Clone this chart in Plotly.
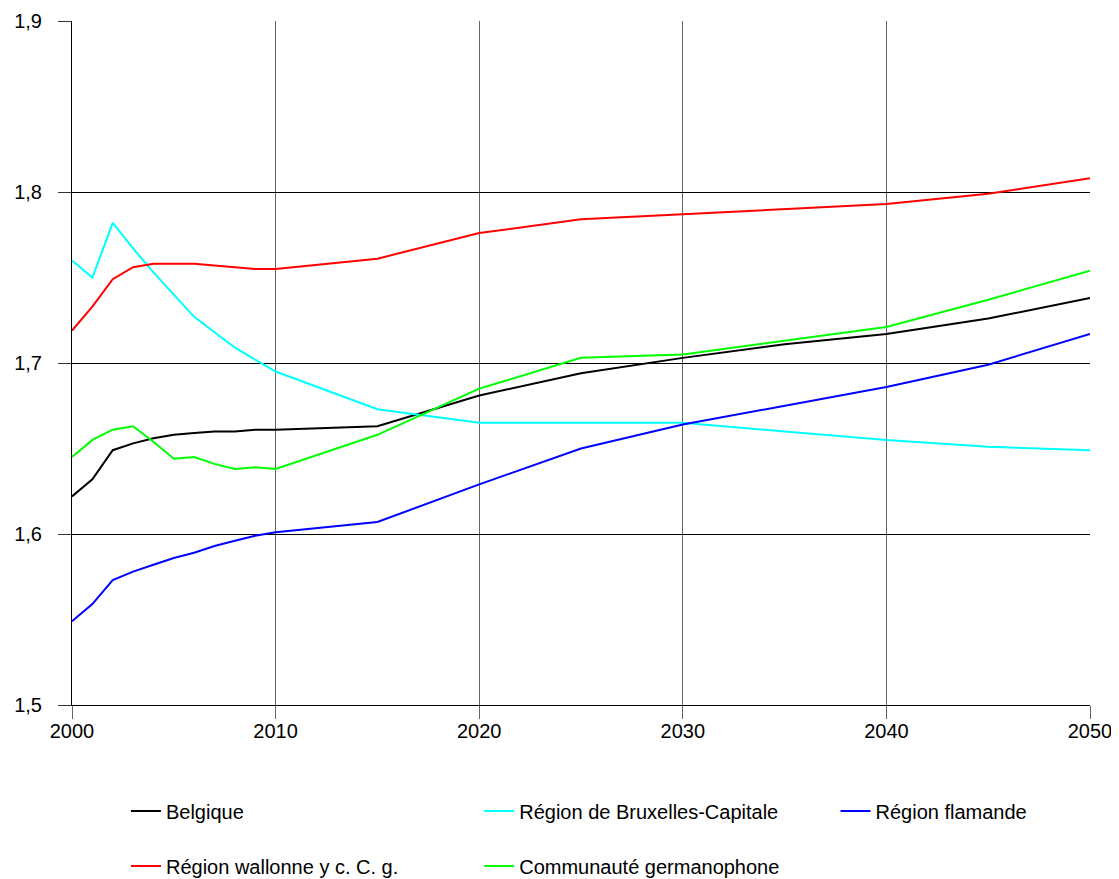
import plotly.graph_objects as go

years = [2000, 2001, 2002, 2003, 2004, 2005, 2006, 2007, 2008, 2009, 2010,
         2015, 2020, 2025, 2030, 2035, 2040, 2045, 2050]

belgique = [1.622, 1.632, 1.649, 1.653, 1.656, 1.658, 1.659, 1.660, 1.660, 1.661, 1.661,
            1.663, 1.681, 1.694, 1.703, 1.711, 1.717, 1.726, 1.738]
bruxelles = [1.760, 1.750, 1.782, 1.767, 1.753, 1.740, 1.727, 1.718, 1.709, 1.702, 1.695,
             1.673, 1.665, 1.665, 1.665, 1.660, 1.655, 1.651, 1.649]
flamande = [1.549, 1.559, 1.573, 1.578, 1.582, 1.586, 1.589, 1.593, 1.596, 1.599, 1.601,
            1.607, 1.629, 1.650, 1.664, 1.675, 1.686, 1.699, 1.717]
wallonne = [1.719, 1.733, 1.749, 1.756, 1.758, 1.758, 1.758, 1.757, 1.756, 1.755, 1.755,
            1.761, 1.776, 1.784, 1.787, 1.790, 1.793, 1.799, 1.808]
germanophone = [1.645, 1.655, 1.661, 1.663, 1.654, 1.644, 1.645, 1.641, 1.638, 1.639, 1.638,
                1.658, 1.685, 1.703, 1.705, 1.713, 1.721, 1.737, 1.754]

names = ["Belgique", "Région de Bruxelles-Capitale", "Région flamande",
         "Région wallonne y c. C. g.", "Communauté germanophone"]
values = [belgique, bruxelles, flamande, wallonne, germanophone]
colors = ["#000000", "#00FFFF", "#0000FF", "#FF0000", "#00FF00"]

x_ticks = [2000, 2010, 2020, 2030, 2040, 2050]
y_ticks = [1.5, 1.6, 1.7, 1.8, 1.9]

# legend placement (paper coords): x of legend box left, y of row center
legend_pos = [(0.053, -0.155), (0.400, -0.155), (0.750, -0.155),
              (0.053, -0.2354), (0.400, -0.2354)]
legend_ids = ["legend", "legend2", "legend3", "legend4", "legend5"]

fig = go.Figure()
for name, vals, color, lg in zip(names, values, colors, legend_ids):
    fig.add_trace(go.Scatter(x=years, y=vals, mode="lines", name=name, showlegend=True,
                             line=dict(color=color, width=2), legend=lg))

font = dict(family="Liberation Sans, Arial, sans-serif", size=20, color="#000000")

layout = dict(
    template="none",
    width=1111, height=900,
    margin=dict(l=64, r=29, t=13, b=203, autoexpand=False),
    paper_bgcolor="white", plot_bgcolor="white",
    separators=", ",
    font=font,
    showlegend=True,
    xaxis=dict(range=[2000, 2050], tickvals=x_ticks, showgrid=True, gridcolor="#666666",
               gridwidth=1, zeroline=False, showline=True, linecolor="#000000",
               ticks="outside", ticklen=13, tickcolor="#666666", tickfont=font,
               automargin=False, ticklabelstandoff=-5),
    yaxis=dict(range=[1.5, 1.9], tickvals=y_ticks, tickformat=".1f", showgrid=True,
               gridcolor="#000000", gridwidth=1, zeroline=False, showline=True,
               linecolor="#000000", ticks="outside", ticklen=13, tickcolor="#333333",
               tickfont=font, ticklabelstandoff=12, automargin=False),
)
for lg, (lx, ly) in zip(legend_ids, legend_pos):
    layout[lg] = dict(orientation="h", x=lx, y=ly, xanchor="left", yanchor="middle",
                      font=font, bgcolor="rgba(0,0,0,0)", borderwidth=0)
fig.update_layout(**layout)

fig.write_html("out.html")
